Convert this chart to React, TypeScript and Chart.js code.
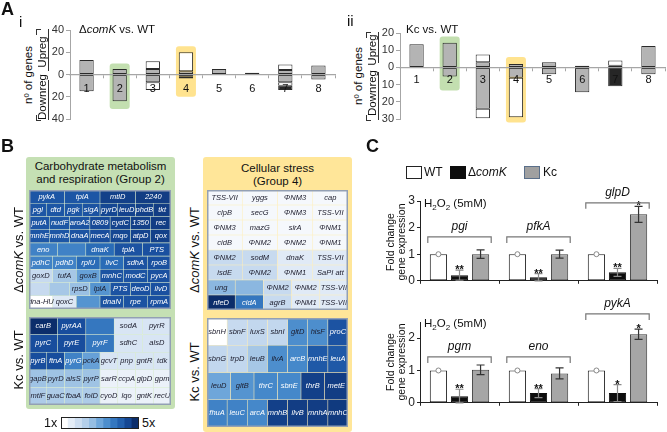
import React, { useEffect, useRef } from 'react';
import { Chart, registerables } from 'chart.js';

Chart.register(...registerables);

const FONT = "'Liberation Sans', Arial, Helvetica, sans-serif";

// ---------------- Panel A data ----------------
const A_CATS = ['1', '2', '3', '4', '5', '6', '7', '8'];
// ΔcomK vs. WT
const A1_UP_GRAY = [13, 5, 5, 3, 5, 1.5, 4, 8];
const A1_UP_BLACK = [null, null, null, null, null, null, null, null];
const A1_UP_WHITE = [null, null, 7, 17, null, null, 5, null];
const A1_DOWN_GRAY = [-15, -24, -7, -2, null, null, -7, -4.5];
const A1_DOWN_WHITE = [null, null, -7, null, null, null, -3, null];
const A1_DOWN_BLACK = [null, null, null, -1.5, null, null, -4, null];
const A1_HL_CAT = [1, 3];
const A1_HL_TOP = [10, 25.5];
const A1_HL_BOT = [-31, -20];
// Kc vs. WT
const A2_UP_GRAY = [13.5, 14.3, 3, 2, 3, 1, null, 12.4];
const A2_UP_BLACK = [null, null, null, null, null, null, 1, null];
const A2_UP_WHITE = [null, null, 4.5, null, null, null, 3, null];
const A2_DOWN_GRAY = [null, -5.3, -24, -6, -4, -14.5, null, -4];
const A2_DOWN_WHITE = [null, null, -5.5, -23, null, null, null, null];
const A2_DOWN_BLACK = [null, null, null, null, null, null, -11, null];
const A2_HL_CAT = [1, 3];
const A2_HL_TOP = [18, 6];
const A2_HL_BOT = [-13.5, -32];

// ---------------- Panel B data (fold change, 1x..5x) ----------------
const B_LT_GENES = [
  ['pykA', 'tpiA', 'mtlD', '2240'],
  ['pgl', 'dtd', 'pgk', 'sigA', 'pyrD', 'leuD', 'phdB', 'tkt'],
  ['putA', 'nudF', 'aroA2', '0809', 'cydC', '1350', 'rec'],
  ['mnhE', 'mnhD', 'dnaA', 'mecA', 'mqo', 'atpD', 'qox'],
  ['eno', '', 'dnaK', 'tpiA', 'PTS'],
  ['pdhC', 'pdhD', 'rplU', 'ilvC', 'sdhA', 'rpoB'],
  ['goxD', 'tufA', 'goxB', 'mnhC', 'modC', 'pycA'],
  ['', '', 'rpsD', 'lplA', 'PTS', 'deoD', 'ilvD'],
  ['dna-HU', 'qoxC', '', 'dnaN', 'rpe', 'rpmA'],
];
const B_LT_FOLD = [
  [4.35, 4.35, 4.7, 4.75],
  [4.35, 4.35, 4.35, 4.4, 4.6, 4.65, 4.7, 4.75],
  [4.35, 4.35, 4.4, 4.55, 4.65, 4.7, 4.75],
  [4.35, 4.35, 4.4, 4.5, 4.6, 4.65, 4.7],
  [3.6, 3.6, 4.0, 4.4, 4.45],
  [3.6, 3.6, 4.0, 4.0, 4.4, 4.45],
  [1.9, 2.4, 3.1, 4.4, 4.4, 4.45],
  [1.9, 2.4, 2.55, 3.3, 4.4, 4.45, 4.45],
  [1.0, 1.5, 3.3, 4.4, 4.4, 4.45],
];
const B_LB_GENES = [
  ['carB', 'pyrAA', '', 'sodA', 'pyrR'],
  ['pyrC', 'pyrE', 'pyrF', 'sdhC', 'alsD'],
  ['pyrB', 'ftnA', 'pyrG', 'pckA', 'gcvT', 'pnp', 'gntR', 'tdk'],
  ['gapB', 'pyrD', 'alsS', 'pyrP', 'sarR', 'ccpA', 'glpD', 'gpm'],
  ['mtlF', 'guaC', 'fbaA', 'folD', 'cyoD', 'lqo', 'gntK', 'recU'],
];
const B_LB_FOLD = [
  [5.0, 4.5, 3.8, 1.6, 1.6],
  [4.5, 4.5, 3.8, 1.6, 1.6],
  [4.5, 4.5, 3.6, 3.1, 1.6, 1.6, 1.6, 1.6],
  [2.5, 2.5, 2.5, 2.5, 1.3, 1.3, 1.3, 1.3],
  [2.3, 2.3, 2.3, 2.3, 1.3, 1.3, 1.3, 1.3],
];
const B_RT_GENES = [
  ['TSS-VII', 'yggs', 'ΦNM3', 'cap'],
  ['clpB', 'secG', 'ΦNM3', 'TSS-VII'],
  ['ΦNM3', 'mazG', 'sirA', 'ΦNM1'],
  ['cidB', 'ΦNM2', 'ΦNM2', 'ΦNM1'],
  ['ΦNM2', 'sodM', 'dnaK', 'TSS-VII'],
  ['isdE', 'ΦNM2', 'ΦNM1', 'SaPI att'],
  ['ung', '', 'ΦNM2', 'ΦNM2', 'TSS-VII'],
  ['nfeD', 'cidA', 'agrB', 'ΦNM1', 'TSS-VII'],
];
const B_RT_FOLD = [
  [1.15, 1.15, 1.15, 1.15],
  [1.15, 1.15, 1.15, 1.15],
  [1.15, 1.15, 1.15, 1.15],
  [1.15, 1.15, 1.15, 1.15],
  [1.9, 1.9, 1.45, 1.45],
  [1.9, 1.9, 1.45, 1.45],
  [2.7, 2.7, 1.9, 1.45, 1.45],
  [5.0, 3.8, 1.9, 1.45, 1.45],
];
const B_RB_GENES = [
  ['sbnH', 'sbnF', 'luxS', 'sbnI', 'gltD', 'hisF', 'proC'],
  ['sbnG', 'trpD', 'leuB', 'ilvA', 'arcB', 'mnhE', 'leuA'],
  ['leuD', 'gltB', 'thrC', 'sbnE', 'thrB', 'metE'],
  ['fhuA', 'leuC', 'arcA', 'mnhB', 'ilvB', 'mnhA', 'mnhC'],
];
const B_RB_FOLD = [
  [1.0, 1.9, 2.0, 2.0, 3.4, 3.4, 4.4],
  [2.0, 2.0, 2.4, 3.4, 3.5, 4.3, 4.3],
  [3.0, 3.3, 3.5, 3.5, 4.7, 4.75],
  [3.6, 3.6, 3.5, 4.7, 4.75, 4.75, 4.8],
];
const CB_STEPS = [1, 1.4, 1.8, 2.2, 2.6, 3, 3.4, 3.8, 4.2, 4.6, 5];

// ---------------- Panel C data ----------------
const C1_GENES = ['pgi', 'pfkA', 'glpD'];
const C1_WT = [1, 1, 1];
const C1_COMK = [0.21, 0.13, 0.32];
const C1_COMK_ERR = [0.19, 0.14, 0.15];
const C1_KC = [1.0, 1.0, 2.5];
const C1_KC_ERR = [0.16, 0.15, 0.3];
const C1_COMK_SIG = ['**', '**', '**'];
const C1_KC_SIG = ['', '', '*'];
const C1_BRACKET = [1.65, 1.65, 2.93];

const C2_GENES = ['pgm', 'eno', 'pykA'];
const C2_WT = [1, 1, 1];
const C2_COMK = [0.2, 0.3, 0.3];
const C2_COMK_ERR = [0.22, 0.14, 0.26];
const C2_KC = [1.02, 0.91, 2.12];
const C2_KC_ERR = [0.15, 0.17, 0.16];
const C2_COMK_SIG = ['**', '**', '*'];
const C2_KC_SIG = ['', '', '*'];
const C2_BRACKET = [1.42, 1.42, 2.75];

// ---------------- helpers ----------------
const HEAT_STOPS: [number, string][] = [
  [1, '#ffffff'], [1.5, '#dde8f5'], [2, '#c2d7ee'], [2.5, '#9fc3e4'], [3, '#6ea6da'],
  [3.5, '#4588ca'], [4, '#2a6cb7'], [4.5, '#184d9d'], [5, '#0b2d6b'],
];
function hex(h: string) {
  return [parseInt(h.slice(1, 3), 16), parseInt(h.slice(3, 5), 16), parseInt(h.slice(5, 7), 16)];
}
function heatColor(v: number) {
  if (v <= HEAT_STOPS[0][0]) return HEAT_STOPS[0][1];
  for (let i = 1; i < HEAT_STOPS.length; i++) {
    if (v <= HEAT_STOPS[i][0]) {
      const [v0, c0] = HEAT_STOPS[i - 1];
      const [v1, c1] = HEAT_STOPS[i];
      const t = (v - v0) / (v1 - v0);
      const a = hex(c0), b = hex(c1);
      const m = a.map((x, k) => Math.round(x + (b[k] - x) * t));
      return `rgb(${m[0]},${m[1]},${m[2]})`;
    }
  }
  return HEAT_STOPS[HEAT_STOPS.length - 1][1];
}

function ChartBox({ x, y, w, h, make }: { x: number; y: number; w: number; h: number; make: () => any }) {
  const ref = useRef<HTMLCanvasElement | null>(null);
  useEffect(() => {
    if (!ref.current) return;
    const chart = new Chart(ref.current, make());
    return () => chart.destroy();
  }, []);
  return (
    <div style={{ position: 'absolute', left: x, top: y, width: w, height: h }}>
      <canvas ref={ref} width={w} height={h} style={{ width: w, height: h, display: 'block' }} />
    </div>
  );
}

// ---------------- Panel A config ----------------
const GRAY = '#b4b4b4';
const BLK = '#262626';
const EDGE = '#2a2a2a';

function aConfig(
  series: { data: (number | null)[]; color: string }[],
  yMin: number, yMax: number, step: number,
  hlCat: number[], hlTop: number[], hlBot: number[], hlColors: string[],
  pad: any, tickPad: number,
) {
  const hlPlugin = {
    id: 'hl',
    beforeDatasetsDraw(chart: any) {
      const { ctx } = chart;
      const xs = chart.scales.x, ys = chart.scales.y;
      ctx.save();
      hlCat.forEach((c, i) => {
        const cx = xs.getPixelForValue(c);
        const t = ys.getPixelForValue(hlTop[i]);
        const b = ys.getPixelForValue(hlBot[i]);
        ctx.fillStyle = hlColors[i];
        ctx.beginPath();
        ctx.roundRect(cx - 10, t, 20, b - t, 3);
        ctx.fill();
      });
      ctx.restore();
    },
  };
  return {
    type: 'bar',
    data: {
      labels: A_CATS,
      datasets: series.map((s) => ({
        data: s.data,
        backgroundColor: s.color,
        borderColor: EDGE,
        borderWidth: 1,
        borderSkipped: false,
        categoryPercentage: 0.9,
        barPercentage: 0.48,
      })),
    },
    options: {
      animation: false,
      responsive: false,
      events: [],
      layout: { padding: pad },
      plugins: { legend: { display: false }, tooltip: { enabled: false } },
      scales: {
        x: {
          stacked: true,
          position: { y: 0 },
          border: { color: '#a6a6a6', width: 1.3, z: 1 },
          grid: { display: true, drawOnChartArea: false, tickLength: 3, color: '#a6a6a6', offset: true },
          ticks: { z: 1, font: { family: FONT, size: 11 }, color: '#111', padding: tickPad, autoSkip: false, maxRotation: 0 },
        },
        y: {
          stacked: true,
          min: yMin,
          max: yMax,
          afterFit: (s: any) => { s.width = 30; },
          border: { color: '#a6a6a6' },
          grid: { display: true, drawOnChartArea: false, tickLength: 4, color: '#a6a6a6' },
          ticks: { stepSize: step, callback: (v: any) => Math.abs(Number(v)), font: { family: FONT, size: 11 }, color: '#333', padding: 2 },
        },
      },
    },
    plugins: [hlPlugin],
  };
}

// ---------------- Panel B config ----------------
const heatLabels = {
  id: 'heatLabels',
  afterDatasetsDraw(chart: any) {
    const { ctx } = chart;
    const meta = chart.getDatasetMeta(0);
    const raw = chart.data.datasets[0].data;
    ctx.save();
    ctx.font = `italic 7.5px ${FONT}`;
    ctx.textAlign = 'center';
    ctx.textBaseline = 'middle';
    meta.data.forEach((el: any, i: number) => {
      const d = raw[i];
      if (!d || !d.g) return;
      const p = el.getProps(['x', 'y', 'base'], true);
      ctx.fillStyle = d.v >= 3.45 ? '#ffffff' : '#1b1b2b';
      ctx.fillText(d.g, (p.x + p.base) / 2, p.y);
    });
    ctx.restore();
  },
  afterDraw(chart: any) {
    const { ctx, chartArea: a } = chart;
    ctx.save();
    ctx.strokeStyle = '#93a0b4';
    ctx.lineWidth = 1.5;
    ctx.strokeRect(a.left + 0.75, a.top + 0.75, a.right - a.left - 1.5, a.bottom - a.top - 1.5);
    ctx.restore();
  },
};

function heatConfig(genes: string[][], fold: number[][]) {
  const pts: any[] = [];
  genes.forEach((row, r) =>
    row.forEach((g, c) => pts.push({ y: 'r' + r, x: [c / row.length, (c + 1) / row.length], v: fold[r][c], g })),
  );
  return {
    type: 'bar',
    data: {
      labels: genes.map((_, r) => 'r' + r),
      datasets: [
        {
          data: pts,
          backgroundColor: (ctx: any) => heatColor(ctx.raw ? ctx.raw.v : 1),
          borderColor: 'rgba(255,255,255,0.25)',
          borderWidth: 0.6,
          borderSkipped: false,
          categoryPercentage: 1,
          barPercentage: 1,
        },
      ],
    },
    options: {
      indexAxis: 'y',
      animation: false,
      responsive: false,
      events: [],
      layout: { padding: 0 },
      plugins: { legend: { display: false }, tooltip: { enabled: false } },
      scales: {
        x: { type: 'linear', min: 0, max: 1, display: false },
        y: { type: 'category', display: false },
      },
    },
    plugins: [heatLabels],
  };
}

function colorbarConfig() {
  return {
    type: 'bar',
    data: {
      labels: CB_STEPS.map(String),
      datasets: [
        {
          data: CB_STEPS.map(() => 1),
          backgroundColor: CB_STEPS.map((s) => heatColor(s)),
          borderWidth: 0,
          categoryPercentage: 1,
          barPercentage: 1,
        },
      ],
    },
    options: {
      animation: false,
      responsive: false,
      events: [],
      layout: { padding: 0 },
      plugins: { legend: { display: false }, tooltip: { enabled: false } },
      scales: { x: { display: false }, y: { display: false, min: 0, max: 1 } },
    },
    plugins: [
      {
        id: 'cbFrame',
        afterDraw(chart: any) {
          const { ctx, chartArea: a } = chart;
          ctx.save();
          ctx.strokeStyle = '#222';
          ctx.lineWidth = 1;
          ctx.strokeRect(a.left + 0.5, a.top + 0.5, a.right - a.left - 1, a.bottom - a.top - 1);
          ctx.restore();
        },
      },
    ],
  };
}

// ---------------- Panel C config ----------------
function cConfig(
  genes: string[], wt: number[], comk: number[], comkErr: number[], kc: number[], kcErr: number[],
  comkSig: string[], kcSig: string[], bracket: number[], yMax: number, padTop: number,
) {
  const plugin = {
    id: 'cDecor',
    afterDatasetsDraw(chart: any) {
      const { ctx } = chart;
      const ys = chart.scales.y;
      const mW = chart.getDatasetMeta(0), mC = chart.getDatasetMeta(1), mK = chart.getDatasetMeta(2);
      ctx.save();
      mW.data.forEach((el: any, i: number) => {
        ctx.beginPath();
        ctx.arc(el.x, ys.getPixelForValue(wt[i]), 2.5, 0, Math.PI * 2);
        ctx.fillStyle = '#fff';
        ctx.fill();
        ctx.strokeStyle = '#888';
        ctx.lineWidth = 1;
        ctx.stroke();
      });
      const groups: [any, number[], number[], string[], string][] = [
        [mC, comk, comkErr, comkSig, '#8a8a8a'],
        [mK, kc, kcErr, kcSig, '#333'],
      ];
      groups.forEach(([m, v, e, s, col]) => {
        m.data.forEach((el: any, i: number) => {
          const x = el.x;
          const t = ys.getPixelForValue(v[i] + e[i]);
          const b = ys.getPixelForValue(Math.max(0, v[i] - e[i]));
          ctx.strokeStyle = col;
          ctx.lineWidth = 1.2;
          ctx.beginPath();
          ctx.moveTo(x, t); ctx.lineTo(x, b);
          ctx.moveTo(x - 4, t); ctx.lineTo(x + 4, t);
          ctx.moveTo(x - 4, b); ctx.lineTo(x + 4, b);
          ctx.stroke();
          if (s[i]) {
            ctx.fillStyle = '#111';
            ctx.font = `bold 11px ${FONT}`;
            ctx.textAlign = 'center';
            ctx.textBaseline = 'alphabetic';
            ctx.fillText(s[i], x, t + 3);
          }
        });
      });
      genes.forEach((g, i) => {
        const w0 = mW.data[i], k0 = mK.data[i];
        const left = w0.x - w0.width / 2 - 2;
        const right = k0.x + k0.width / 2 + 2;
        const yb = ys.getPixelForValue(bracket[i]);
        ctx.strokeStyle = '#777';
        ctx.lineWidth = 1.2;
        ctx.beginPath();
        ctx.moveTo(left, yb + 6); ctx.lineTo(left, yb); ctx.lineTo(right, yb); ctx.lineTo(right, yb + 6);
        ctx.stroke();
        ctx.fillStyle = '#111';
        ctx.font = `italic 12px ${FONT}`;
        ctx.textAlign = 'center';
        ctx.textBaseline = 'middle';
        ctx.fillText(g, (left + right) / 2, yb - 10);
      });
      ctx.restore();
    },
  };
  return {
    type: 'bar',
    data: {
      labels: genes,
      datasets: [
        { data: wt, backgroundColor: '#ffffff', borderColor: '#1a1a1a' },
        { data: comk, backgroundColor: '#0d0d0d', borderColor: '#0d0d0d' },
        { data: kc, backgroundColor: '#a6a6a6', borderColor: '#3a3a3a' },
      ].map((s) => ({ ...s, borderWidth: 1, borderSkipped: false, categoryPercentage: 0.8, barPercentage: 0.82 })),
    },
    options: {
      animation: false,
      responsive: false,
      events: [],
      layout: { padding: { top: padTop, right: 10, left: 0, bottom: 0 } },
      plugins: { legend: { display: false }, tooltip: { enabled: false } },
      scales: {
        x: {
          afterFit: (s: any) => { s.height = 8; },
          border: { color: '#222' },
          grid: { display: true, drawOnChartArea: false, tickLength: 3, color: '#222', offset: true },
          ticks: { display: false },
        },
        y: {
          min: 0,
          max: yMax,
          afterFit: (s: any) => { s.width = 40; },
          border: { color: '#222' },
          grid: { display: true, drawOnChartArea: false, tickLength: 3, color: '#222' },
          ticks: { stepSize: 1, includeBounds: false, font: { family: FONT, size: 12 }, color: '#222', padding: 2 },
        },
      },
    },
    plugins: [plugin],
  };
}

// ---------------- HTML text helpers ----------------
function T({ x, y, size = 11, bold = false, children, style }: any) {
  return (
    <div style={{ position: 'absolute', left: x, top: y, fontSize: size, fontWeight: bold ? 'bold' : 'normal', lineHeight: 1, whiteSpace: 'nowrap', color: '#111', ...style }}>
      {children}
    </div>
  );
}
function RT({ cx, cy, size = 13, children }: any) {
  return (
    <div style={{ position: 'absolute', left: cx, top: cy, fontSize: size, lineHeight: 1, whiteSpace: 'nowrap', color: '#111', transform: 'translate(-50%,-50%) rotate(-90deg)' }}>
      {children}
    </div>
  );
}
function VLine({ x, y1, y2 }: any) {
  return <div style={{ position: 'absolute', left: x, top: y1, width: 1, height: y2 - y1, background: '#333' }} />;
}
function ASide({ L, top, zero, bot }: any) {
  return (
    <>
      <RT cx={L - 41} cy={(top + bot) / 2} size={11.5}>nº of genes</RT>
      <RT cx={L - 27} cy={(top + zero) / 2} size={11.5}>Upreg</RT>
      <RT cx={L - 27} cy={(zero + bot) / 2} size={11.5}>Downreg</RT>
      <VLine x={L - 22} y1={top - 1} y2={zero - 4} />
      <VLine x={L - 22} y1={zero + 5} y2={bot + 1} />
      <div style={{ position: 'absolute', left: L - 34, top: top - 1, width: 4, height: 5, borderLeft: '1px solid #333', borderTop: '1px solid #333' }} />
      <div style={{ position: 'absolute', left: L - 34, top: bot - 4, width: 4, height: 5, borderLeft: '1px solid #333', borderBottom: '1px solid #333' }} />
    </>
  );
}

export default function App() {
  const a1 = () =>
    aConfig(
      [
        { data: A1_UP_GRAY, color: GRAY },
        { data: A1_UP_BLACK, color: BLK },
        { data: A1_UP_WHITE, color: '#ffffff' },
        { data: A1_DOWN_GRAY, color: GRAY },
        { data: A1_DOWN_WHITE, color: '#ffffff' },
        { data: A1_DOWN_BLACK, color: BLK },
      ],
      -40, 40, 20, A1_HL_CAT, A1_HL_TOP, A1_HL_BOT, ['#c3dfb0', '#ffe38f'],
      { top: 10, right: 5, bottom: 11, left: 0 }, 5,
    );
  const a2 = () =>
    aConfig(
      [
        { data: A2_UP_GRAY, color: GRAY },
        { data: A2_UP_BLACK, color: BLK },
        { data: A2_UP_WHITE, color: '#ffffff' },
        { data: A2_DOWN_GRAY, color: GRAY },
        { data: A2_DOWN_WHITE, color: '#ffffff' },
        { data: A2_DOWN_BLACK, color: BLK },
      ],
      -30, 20, 10, A2_HL_CAT, A2_HL_TOP, A2_HL_BOT, ['#c3dfb0', '#ffe38f'],
      { top: 13, right: 2, bottom: 11, left: 0 }, 3,
    );
  const c1 = () => cConfig(C1_GENES, C1_WT, C1_COMK, C1_COMK_ERR, C1_KC, C1_KC_ERR, C1_COMK_SIG, C1_KC_SIG, C1_BRACKET, 3, 23);
  const c2 = () => cConfig(C2_GENES, C2_WT, C2_COMK, C2_COMK_ERR, C2_KC, C2_KC_ERR, C2_COMK_SIG, C2_KC_SIG, C2_BRACKET, 2.5, 32);

  return (
    <div style={{ position: 'absolute', left: 0, top: 0, width: 667, height: 432, background: '#fff', overflow: 'hidden', fontFamily: FONT }}>
      <div style={{ position: 'absolute', left: 26, top: 157, width: 149, height: 252, background: '#c5e0b4', borderRadius: 3 }} />
      <div style={{ position: 'absolute', left: 203, top: 157, width: 149, height: 275, background: '#ffe699', borderRadius: 3 }} />

      <ChartBox x={40} y={20} w={300} h={110} make={a1} />
      <ChartBox x={370} y={20} w={297} h={110} make={a2} />
      <ASide L={70} top={30} zero={74.5} bot={119} />
      <ASide L={400} top={33} zero={67.4} bot={119} />

      <ChartBox x={29} y={190} w={142} h={119} make={() => heatConfig(B_LT_GENES, B_LT_FOLD)} />
      <ChartBox x={29} y={317} w={142} h={88} make={() => heatConfig(B_LB_GENES, B_LB_FOLD)} />
      <ChartBox x={207} y={190} w={141} h={120} make={() => heatConfig(B_RT_GENES, B_RT_FOLD)} />
      <ChartBox x={207} y={318} w={141} h={109} make={() => heatConfig(B_RB_GENES, B_RB_FOLD)} />
      <ChartBox x={61} y={417} w={78} h={12} make={colorbarConfig} />

      <ChartBox x={380} y={178} w={287} h={112} make={c1} />
      <ChartBox x={380} y={290} w={287} h={122} make={c2} />

      <T x={1} y={0} size={18} bold>A</T>
      <T x={19} y={14} size={15}>i</T>
      <T x={347} y={13} size={15}>ii</T>
      <T x={79} y={24} size={11.5}>Δ<i>comK</i> vs. WT</T>
      <T x={406} y={24} size={11.5}>Kc vs. WT</T>

      <T x={1} y={137} size={18} bold>B</T>
      <T x={26} y={160} size={11.5} style={{ width: 149, textAlign: 'center', lineHeight: '12.5px' }}>
        Carbohydrate metabolism<br />and respiration (Group 2)
      </T>
      <T x={203} y={162} size={11.5} style={{ width: 149, textAlign: 'center', lineHeight: '12.5px' }}>
        Cellular stress<br />(Group 4)
      </T>
      <RT cx={18} cy={250}>Δ<i>comK</i> vs. WT</RT>
      <RT cx={18} cy={360}>Kc vs. WT</RT>
      <RT cx={194} cy={250}>Δ<i>comK</i> vs. WT</RT>
      <RT cx={194} cy={372}>Kc vs. WT</RT>
      <T x={44} y={417} size={12.5}>1x</T>
      <T x={142} y={417} size={12.5}>5x</T>

      <T x={366} y={137} size={18} bold>C</T>
      <div style={{ position: 'absolute', left: 406, top: 166, width: 14, height: 11, background: '#fff', border: '1px solid #222' }} />
      <T x={424} y={166} size={12}>WT</T>
      <div style={{ position: 'absolute', left: 450, top: 166, width: 14, height: 11, background: '#0d0d0d', border: '1px solid #0d0d0d' }} />
      <T x={468} y={166} size={12}>Δ<i>comK</i></T>
      <div style={{ position: 'absolute', left: 524, top: 166, width: 14, height: 11, background: '#a0a0a0', border: '1px solid #5a6f8a' }} />
      <T x={543} y={166} size={12}>Kc</T>

      <T x={424} y={198} size={11.5}>H<sub style={{ fontSize: 8 }}>2</sub>O<sub style={{ fontSize: 8 }}>2</sub> (5mM)</T>
      <T x={424} y={318} size={11.5}>H<sub style={{ fontSize: 8 }}>2</sub>O<sub style={{ fontSize: 8 }}>2</sub> (5mM)</T>
      <RT cx={390} cy={242} size={10.5}>Fold change</RT>
      <RT cx={401} cy={242} size={10.5}>gene expression</RT>
      <RT cx={390} cy={362} size={10.5}>Fold change</RT>
      <RT cx={401} cy={362} size={10.5}>gene expression</RT>
    </div>
  );
}
